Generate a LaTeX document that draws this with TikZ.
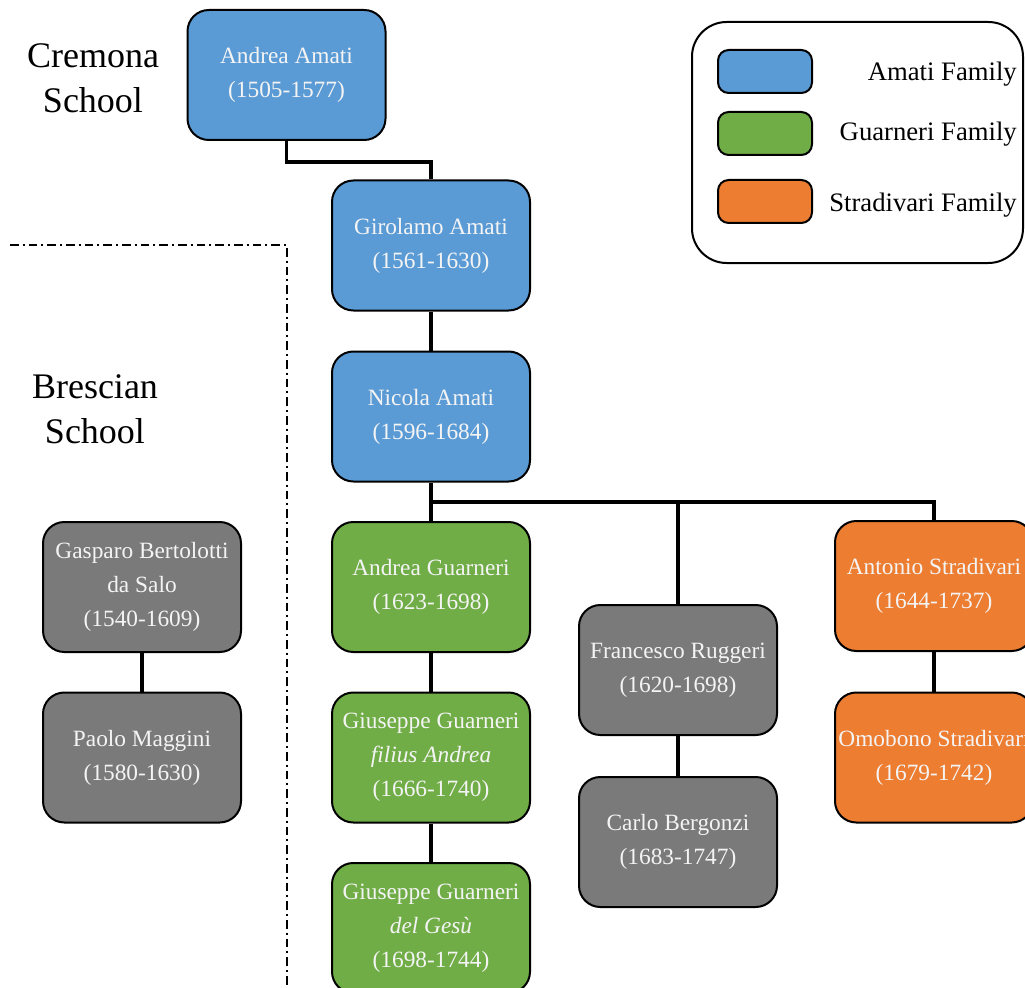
\documentclass[tikz,border=0pt]{standalone}
\usepackage{fontspec}
\setmainfont{Liberation Serif}
\definecolor{amatiblue}{HTML}{5B9BD5}
\definecolor{guargreen}{HTML}{70AD47}
\definecolor{stradorange}{HTML}{ED7D31}
\definecolor{othergray}{HTML}{7A7A7A}
\definecolor{txt}{HTML}{F4F4F4}
\begin{document}
\begin{tikzpicture}[x=0.75pt,y=-0.75pt,
  box/.style={draw=black, line width=1.5pt, rounded corners=16pt,
    minimum width=148.5pt, minimum height=97.5pt, inner sep=0pt,
    align=center, text=txt, font=\fontsize{17.5}{25.5}\selectfont},
  amati/.style={box, fill=amatiblue},
  guar/.style={box, fill=guargreen},
  strad/.style={box, fill=stradorange},
  other/.style={box, fill=othergray},
  link/.style={draw=black, line width=2.6pt},
  dashdotline/.style={draw=black, line width=1.8pt, dash pattern=on 6.5pt off 3pt on 1.5pt off 3pt},
  biglabel/.style={align=center, inner sep=0pt, font=\fontsize{27}{34}\selectfont},
  swatch/.style={draw=black, line width=1.5pt, rounded corners=8pt,
    minimum width=70.5pt, minimum height=32.25pt, inner sep=0pt},
  legtext/.style={anchor=east, inner sep=0pt, font=\fontsize{20}{24}\selectfont}
]
\useasboundingbox (0,0) rectangle (1025,988);
\clip (0,0) rectangle (1025,988);

% school labels
\node[biglabel] (cremona) at (93,78) {Cremona\\School};
\node[biglabel] (brescian) at (95,409) {Brescian\\School};

% dash-dot separator
\coordinate (d1) at (10,245);
\coordinate (d2) at (287,245);
\coordinate (d3) at (287,992);
\draw[dashdotline] (d1) -- (d2) -- (d3);

% nodes
\node[amati] (aa) at (286.5,75) {Andrea Amati\\(1505-1577)};
\node[amati] (ga) at (431,245.5) {Girolamo Amati\\(1561-1630)};
\node[amati] (na) at (431,416.5) {Nicola Amati\\(1596-1684)};
\node[guar] (ag) at (431,587) {Andrea Guarneri\\(1623-1698)};
\node[guar] (gf) at (431,757.5) {Giuseppe Guarneri\\\textit{filius Andrea}\\(1666-1740)};
\node[guar] (gg) at (431,928) {Giuseppe Guarneri\\\textit{del Gesù}\\(1698-1744)};
\node[other] (fr) at (678,670) {Francesco Ruggeri\\(1620-1698)};
\node[other] (cb) at (678,842) {Carlo Bergonzi\\(1683-1747)};
\node[strad] (as) at (934,586) {Antonio Stradivari\\(1644-1737)};
\node[strad] (os) at (934,757.5) {Omobono Stradivari\\(1679-1742)};
\node[other] (gb) at (142,587) {Gasparo Bertolotti\\da Salo\\(1540-1609)};
\node[other] (pm) at (142,757.5) {Paolo Maggini\\(1580-1630)};

% connectors
\draw[link] (aa.south) -- ++(0,21) -| (ga.north);
\draw[link] (ga.south) -- (na.north);
\draw[link] (na.south) -- (ag.north);
\coordinate (bar) at (431,502);
\draw[link] (bar) -| (fr.north);
\draw[link] (bar) -| (as.north);
\draw[link] (ag.south) -- (gf.north);
\draw[link] (gf.south) -- (gg.north);
\draw[link] (fr.south) -- (cb.north);
\draw[link] (as.south) -- (os.north);
\draw[link] (gb.south) -- (pm.north);

% legend
\node[draw=black, line width=1.5pt, rounded corners=26pt, minimum width=248.25pt,
  minimum height=180.75pt, inner sep=0pt] (legend) at (857.5,142.5) {};
\node[swatch, fill=amatiblue] (sw1) at (765,71.5) {};
\node[swatch, fill=guargreen] (sw2) at (765,133.5) {};
\node[swatch, fill=stradorange] (sw3) at (765,201.5) {};
\node[legtext] (l1) at (1017,74) {Amati Family};
\node[legtext] (l2) at (1017,134) {Guarneri Family};
\node[legtext] (l3) at (1017,205) {Stradivari Family};
\end{tikzpicture}
\end{document}
